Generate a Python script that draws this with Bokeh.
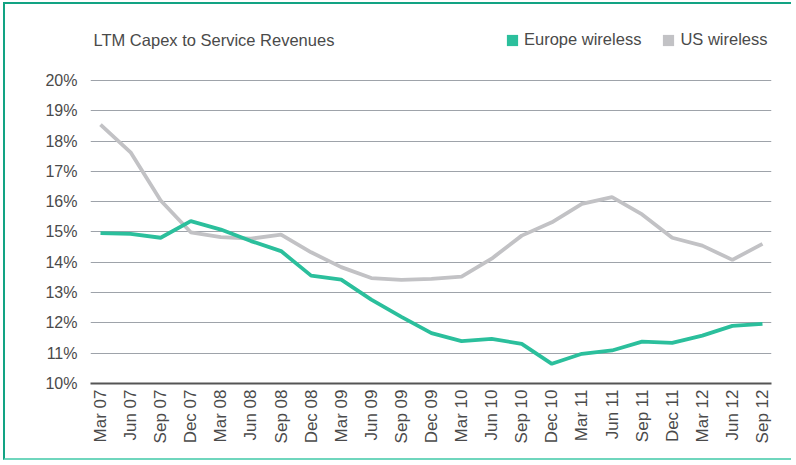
from math import pi
from bokeh.plotting import figure
from bokeh.models import (Range1d, FixedTicker, PrintfTickFormatter, Legend, LegendItem,
                          ColumnDataSource, Label)
from bokeh.embed import file_html
from bokeh.resources import INLINE

# ---- data ----
quarters = ["Mar 07", "Jun 07", "Sep 07", "Dec 07", "Mar 08", "Jun 08", "Sep 08", "Dec 08",
            "Mar 09", "Jun 09", "Sep 09", "Dec 09", "Mar 10", "Jun 10", "Sep 10", "Dec 10",
            "Mar 11", "Jun 11", "Sep 11", "Dec 11", "Mar 12", "Jun 12", "Sep 12"]
europe_wireless = [14.96, 14.94, 14.81, 15.36, 15.08, 14.70, 14.37, 13.56, 13.43, 12.77, 12.20,
                   11.66, 11.40, 11.47, 11.31, 10.65, 10.98, 11.09, 11.38, 11.34, 11.58, 11.90, 11.97]
us_wireless = [18.54, 17.63, 16.04, 14.99, 14.83, 14.78, 14.91, 14.33, 13.84, 13.48, 13.42,
               13.45, 13.53, 14.12, 14.88, 15.32, 15.93, 16.15, 15.58, 14.81, 14.55, 14.08, 14.61]
y_ticks = [10, 11, 12, 13, 14, 15, 16, 17, 18, 19, 20]
title_text = "LTM Capex to Service Revenues"
series_names = ["Europe wireless", "US wireless"]

GREEN = "#2bbf9c"
GRAY = "#c2c2c5"
TEXT = "#4a4a4a"
FONT = "Liberation Sans"

idx = list(range(len(quarters)))
src = ColumnDataSource(dict(x=idx, eu=europe_wireless, us=us_wireless))

W, H = 788, 458
p = figure(width=W, height=H, output_backend="svg", toolbar_location=None,
           x_range=Range1d(-0.332, 22.3), y_range=Range1d(10, 22.21),
           min_border_left=85, min_border_right=22, min_border_top=9, min_border_bottom=79,
           styles={"margin-left": "3px", "margin-top": "2px",
                   "border-top": "2px solid #12a383", "border-left": "2px solid #12a383",
                   "border-bottom": "2px solid #6fd6bd"})
p.outline_line_color = None
p.background_fill_color = "white"
p.border_fill_color = "white"

us_r = p.line("x", "us", source=src, line_color=GRAY, line_width=3.8)
eu_r = p.line("x", "eu", source=src, line_color=GREEN, line_width=3.8)

# axes
p.xaxis.ticker = FixedTicker(ticks=idx)
p.xaxis.major_label_overrides = {i: q for i, q in enumerate(quarters)}
p.xaxis.major_label_orientation = pi / 2
p.xaxis.axis_line_color = "#555555"
p.xaxis.axis_line_width = 2
p.xaxis.major_tick_line_color = None
p.xaxis.minor_tick_line_color = None
p.xaxis.major_tick_out = 0
p.xaxis.major_tick_in = 0
p.xaxis.major_label_standoff = 6
p.xaxis.major_label_text_font = FONT
p.xaxis.major_label_text_font_size = "17px"
p.xaxis.major_label_text_color = TEXT

p.yaxis.ticker = FixedTicker(ticks=y_ticks)
p.yaxis.formatter = PrintfTickFormatter(format="%d%%")
p.yaxis.axis_line_color = None
p.yaxis.major_tick_line_color = None
p.yaxis.minor_tick_line_color = None
p.yaxis.major_tick_out = 0
p.yaxis.major_tick_in = 0
p.yaxis.major_label_standoff = 13
p.yaxis.major_label_text_font = FONT
p.yaxis.major_label_text_font_size = "16px"
p.yaxis.major_label_text_color = TEXT

p.xgrid.grid_line_color = None
p.ygrid.ticker = FixedTicker(ticks=y_ticks)
p.ygrid.grid_line_color = "#9ea3aa"
p.ygrid.grid_line_width = 1

# legend with square swatches (area renderers hold one box far outside the view)
sw_eu = p.quad(left=[-100], right=[-99], bottom=[0], top=[1], color=GREEN, line_color=None)
sw_us = p.quad(left=[-100], right=[-99], bottom=[0], top=[1], color=GRAY, line_color=None)
legend = Legend(items=[LegendItem(label=series_names[0], renderers=[sw_eu]),
                       LegendItem(label=series_names[1], renderers=[sw_us])],
                orientation="horizontal", location=(415, 334),
                glyph_width=14, glyph_height=14, label_standoff=5, spacing=20,
                padding=0, margin=0, border_line_color=None, background_fill_alpha=0,
                label_text_font=FONT, label_text_font_size="16.5px", label_text_color=TEXT)
p.add_layout(legend, "center")

# chart title
p.add_layout(Label(x=-0.232, y=21.32, text=title_text, text_font=FONT,
                   text_font_size="16.5px", text_color=TEXT,
                   text_baseline="middle", text_align="left"))

open("out.html", "w").write(file_html(p, INLINE))
